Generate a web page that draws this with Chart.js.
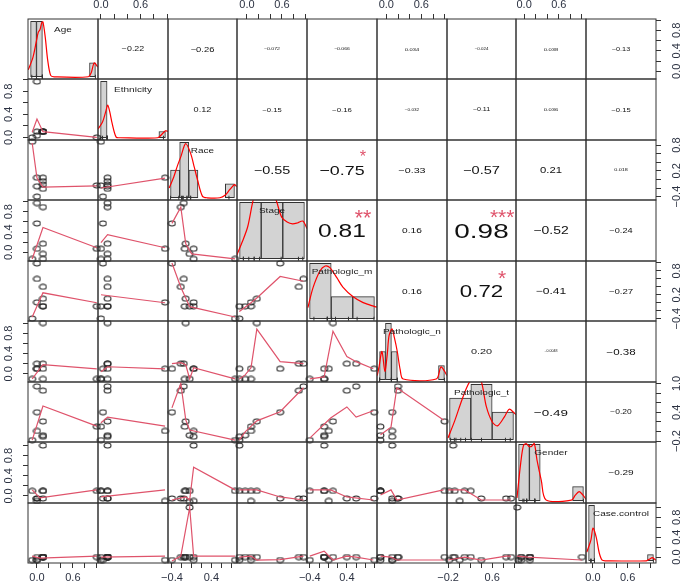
<!DOCTYPE html>
<html>
<head>
<meta charset="utf-8">
<script src="https://cdn.jsdelivr.net/npm/chart.js@4.4.1/dist/chart.umd.min.js"></script>
<style>
    html, body { margin: 0; padding: 0; background: #fff; }
    #wrap { position: relative; width: 685px; height: 582px; overflow: hidden; background: #fff; }
    #wrap canvas { position: absolute; }
</style>
</head>
<body>
<div id="wrap"></div>
<script>
// ---- variables (one value per observation, null = missing) ----
const varNames = ['Age', 'Ethnicity', 'Race', 'Stage', 'Pathologic_m', 'Pathologic_n', 'Pathologic_t', 'Gender', 'Case.control'];

const age         = [-0.08, 0.10, 0.10, 0.00, 1.00, 0.10, 0.00, 0.10, 0.00, null];
const ethnicity   = [0.00, 0.10, 0.10, 0.97, 0.00, 0.10, 0.03, 0.10, 0.10, null];
const race        = [0.88, 0.04, -0.04, 0.04, -0.14, -0.12, -0.40, -0.22, -0.16, -0.04];
const stage       = [-0.13, -0.13, -0.03, 0.07, 0.07, 0.17, 0.57, 0.89, 0.97, null];
const pathM       = [-0.40, -0.09, -0.09, 0.01, -0.09, 0.10, 0.99, 0.40, 0.60, null];
const pathN       = [-0.10, 0.10, -0.10, 0.10, -0.10, 1.00, 0.10, 0.20, 0.20, null];
const pathT       = [-0.18, -0.11, -0.08, 0.01, 0.10, 0.21, 0.40, 0.85, 0.94, null];
const gender      = [0.10, 1.00, 0.10, -0.10, 0.10, 0.10, -0.05, -0.05, -0.05, -0.12];
const caseControl = [-0.06, 0.00, 0.00, -0.06, 0.00, 0.00, -0.06, 0.00, 0.00, 1.00];

// axis range of each variable (same for its column and its row)
const ranges = [[-0.15, 1.02], [-0.045, 1.015], [-0.48, 0.92], [-0.17, 1.03], [-0.46, 1.05],
                [-0.16, 1.04], [-0.22, 1.03], [-0.14, 1.07], [-0.12, 1.09]];

// tick values and the labels that are printed
const ticks01 = [0, 0.2, 0.4, 0.6, 0.8, 1.0];
const ticksRace = [-0.4, -0.2, 0, 0.2, 0.4, 0.6, 0.8];
const ticksPathM = [-0.4, -0.2, 0, 0.2, 0.4, 0.6, 0.8, 1.0];
const ticksPathT = [-0.2, 0, 0.2, 0.4, 0.6, 0.8, 1.0];
const labelsH01 = ['0.0', '0.6'];
const labelsHNeg4 = ['\u22120.4', '0.4'];
const labelsHNeg2 = ['\u22120.2', '0.6'];
const labelsV01 = ['0.0', '0.4', '0.8'];
const labelsVNeg4 = ['\u22120.4', '0.2', '0.8'];
const labelsVNeg2 = ['\u22120.2', '0.4', '1.0'];

// histograms on the diagonal
const breaksAge    = [-0.1, 0, 0.1, 0.2, 0.3, 0.4, 0.5, 0.6, 0.7, 0.8, 0.9, 1.0];
const countsAge    = [4, 4, 0, 0, 0, 0, 0, 0, 0, 0, 1];
const breaksEth    = [0, 0.1, 0.2, 0.3, 0.4, 0.5, 0.6, 0.7, 0.8, 0.9, 1.0];
const countsEth    = [9, 0, 0, 0, 0, 0, 0, 0, 0, 1];
const breaksRace   = [-0.4, -0.2, 0, 0.2, 0.4, 0.6, 0.8, 1.0];
const countsRace   = [2, 4, 2, 0, 0, 0, 1];
const breaksStage  = [-0.2, 0.2, 0.6, 1.0];
const countsStage  = [3, 3, 3];
const breaksPathM  = [-0.5, 0, 0.5, 1.0];
const countsPathM  = [5, 2, 2];
const breaksPathN  = [-0.1, 0, 0.1, 0.2, 0.3, 0.4, 0.5, 0.6, 0.7, 0.8, 0.9, 1.0];
const countsPathN  = [2, 4, 2, 0, 0, 0, 0, 0, 0, 0, 1];
const breaksPathT  = [-0.2, 0.2, 0.6, 1.0];
const countsPathT  = [3, 4, 2];
const breaksGender = [-0.2, 0, 0.2, 0.4, 0.6, 0.8, 1.0];
const countsGender = [4, 4, 0, 0, 0, 1];
const breaksCase   = [-0.1, 0, 0.1, 0.2, 0.3, 0.4, 0.5, 0.6, 0.7, 0.8, 0.9, 1.0];
const countsCase   = [9, 0, 0, 0, 0, 0, 0, 0, 0, 0, 1];

// density curves (x in variable units, y in histogram count units)
const densAge = [[-0.14, 0.5], [-0.06, 1.4], [0.0, 2.6], [0.03, 3.2], [0.06, 3.4], [0.09, 3.9], [0.11, 3.95], [0.15, 2.8], [0.19, 1.2], [0.24, 0.1], [0.3, 0], [0.88, 0], [0.93, 0.3], [0.98, 1.0], [1.04, 0.7]];
const densEth = [[-0.04, 1.4], [0.03, 2.5], [0.08, 4.2], [0.11, 5.2], [0.14, 4.2], [0.18, 2.2], [0.24, 0.1], [0.3, 0], [0.88, 0], [0.95, 0.6], [1.0, 1.1], [1.04, 1.0]];
const densRace = [[-0.43, 0.7], [-0.33, 1.5], [-0.25, 2.3], [-0.17, 3.0], [-0.07, 3.9], [0.04, 3.2], [0.12, 2.2], [0.19, 1.3], [0.3, 0.1], [0.4, 0], [0.68, 0], [0.8, 0.2], [0.9, 0.6], [1.0, 0.95], [1.05, 0.8]];
const densStage = [[-0.25, 0.2], [-0.15, 0.9], [-0.05, 1.7], [0.05, 3.1], [0.15, 4.0], [0.25, 4.3], [0.38, 3.9], [0.49, 3.0], [0.58, 2.2], [0.68, 1.95], [0.78, 1.85], [0.87, 1.9], [0.97, 2.0], [1.05, 1.6]];
const densPathM = [[-0.54, 1.0], [-0.42, 2.8], [-0.26, 4.3], [-0.14, 4.75], [-0.03, 4.6], [0.13, 3.7], [0.27, 2.85], [0.5, 2.0], [0.74, 1.45], [1.01, 1.1], [1.06, 1.05]];
const densPathN = [[-0.14, 0.3], [-0.11, 0.9], [-0.06, 2.0], [-0.01, 0.6], [0.03, 1.8], [0.06, 3.1], [0.11, 3.6], [0.15, 3.0], [0.2, 2.0], [0.25, 0.7], [0.3, 0.05], [0.86, 0.05], [0.94, 0.9], [1.01, 0.55], [1.04, 0.3]];
const densPathT = [[-0.23, 0.13], [-0.1, 1.4], [0.03, 2.85], [0.14, 3.9], [0.23, 4.45], [0.31, 4.65], [0.4, 4.15], [0.49, 2.4], [0.6, 1.3], [0.7, 1.0], [0.83, 1.65], [0.92, 2.2], [1.01, 1.95], [1.05, 1.8]];
const densGender = [[-0.23, 0.2], [-0.16, 2.7], [-0.11, 3.9], [-0.06, 4.05], [-0.01, 3.85], [0.04, 3.85], [0.09, 4.05], [0.14, 2.9], [0.22, 1.45], [0.31, 0.05], [0.78, 0.05], [0.85, 0.4], [0.92, 0.65], [0.98, 0.45], [1.05, 0.1]];
const densCase = [[-0.13, 1.4], [-0.06, 3.4], [-0.025, 5.3], [0.03, 3.8], [0.08, 1.3], [0.13, 0.1], [0.2, 0], [0.88, 0], [0.94, 0.3], [0.98, 0.5], [1.04, 0.1]];

// smoother lines of the lower panels: smRC = row variable R against column variable C
const sm21 = [[-0.08, 0.09], [0.0, 0.32], [0.1, 0.1], [1.0, 0.0]];
const sm31 = [[-0.08, 0.85], [0.0, 0.03], [0.1, -0.18], [1.0, -0.15]];
const sm32 = [[0.0, -0.2], [0.97, 0.03]];
const sm41 = [[-0.08, -0.13], [0.1, 0.49], [1.0, 0.09]];
const sm42 = [[0.0, 0.19], [0.1, 0.35], [0.97, 0.09]];
const sm43 = [[-0.4, 0.57], [-0.22, 0.89], [-0.12, 0.17], [0.0, -0.03], [0.88, -0.13]];
const sm51 = [[-0.08, -0.36], [0.1, 0.25], [1.0, 0.0]];
const sm52 = [[0.0, 0.2], [0.97, 0.0]];
const sm53 = [[-0.4, 1.0], [-0.22, 0.39], [-0.04, -0.1], [0.88, -0.36]];
const sm54 = [[-0.13, -0.22], [0.07, 0.0], [0.17, 0.12], [0.57, 0.66], [0.97, 0.54]];
const sm61 = [[-0.08, -0.1], [0.1, 0.18], [1.0, 0.1]];
const sm62 = [[0.0, 0.04], [0.1, 0.14], [0.97, 0.1]];
const sm63 = [[-0.4, 0.2], [-0.22, 0.22], [-0.12, 0.18], [-0.04, -0.1], [0.04, 0.12], [0.88, -0.1]];
const sm64 = [[-0.13, -0.1], [-0.03, -0.02], [0.07, 0.12], [0.17, 0.88], [0.57, 0.24], [0.97, 0.2]];
const sm65 = [[-0.4, -0.1], [-0.09, -0.06], [0.1, 0.84], [0.4, 0.34], [0.6, 0.24], [0.97, 0.1]];
const sm71 = [[-0.08, -0.18], [0.1, 0.53], [1.0, 0.11]];
const sm72 = [[0.0, 0.18], [0.1, 0.3], [0.97, 0.11]];
const sm73 = [[-0.4, 0.49], [-0.22, 1.0], [-0.12, 0.24], [-0.04, 0.03], [0.88, -0.18]];
const sm74 = [[-0.13, -0.18], [-0.03, -0.01], [0.17, 0.22], [0.57, 0.41], [0.97, 0.91]];
const sm75 = [[-0.4, -0.14], [0.05, 0.28], [0.4, 0.51], [0.6, 0.3], [0.97, 0.43]];
const sm76 = [[-0.1, -0.07], [0.08, 0.09], [0.18, 0.91], [0.98, 0.24]];
const sm81 = [[-0.08, 0.12], [0.05, -0.04], [1.0, 0.12]];
const sm82 = [[0.0, -0.02], [0.97, 0.12]];
const sm83 = [[-0.4, -0.08], [-0.12, -0.02], [-0.04, -0.08], [0.04, 0.57], [0.88, 0.12]];
const sm84 = [[-0.13, 0.12], [0.17, 0.12], [0.57, -0.02], [0.97, -0.08]];
const sm85 = [[-0.4, 0.12], [0.05, 0.12], [0.4, -0.02], [0.97, -0.08]];
const sm86 = [[-0.1, 0.02], [0.08, 0.12], [0.18, -0.08], [0.98, 0.12]];
const sm87 = [[-0.2, 0.12], [0.1, 0.12], [0.4, -0.08], [0.94, -0.08]];
const sm91 = [[-0.08, 0.02], [0.05, -0.02], [1.0, 0.02]];
const sm92 = [[0.0, 0.0], [0.97, 0.02]];
const sm93 = [[-0.4, -0.08], [-0.22, 0.02], [-0.04, 1.0], [0.04, 0.02], [0.88, 0.02]];
const sm94 = [[-0.13, 0.0], [0.07, 0.02], [0.17, -0.06], [0.57, -0.05], [0.97, 0.02]];
const sm95 = [[-0.4, 0.02], [-0.09, 0.12], [0.1, -0.06], [0.4, 0.02], [0.6, 0.0], [0.97, -0.06]];
const sm96 = [[-0.1, 0.02], [0.08, 0.0], [0.18, -0.06], [0.98, -0.06]];
const sm97 = [[-0.2, -0.06], [0.1, 0.0], [0.4, -0.06], [0.85, 0.02], [0.94, 0.02]];
const sm98 = [[-0.12, 0.02], [0.07, 0.0], [1.0, -0.06]];

// correlations printed in the upper panels (row variable against the later columns)
const corAge       = ['-0.22', '-0.26', '-0.072', '-0.066', '0.034', '-0.024', '0.038', '-0.13'];
const corEthnicity = ['0.12', '-0.15', '-0.16', '-0.032', '-0.11', '0.036', '-0.15'];
const corRace      = ['-0.55', '-0.75', '-0.33', '-0.57', '0.21', '0.018'];
const corStage     = ['0.81', '0.16', '0.98', '-0.52', '-0.24'];
const corPathM     = ['0.16', '0.72', '-0.41', '-0.27'];
const corPathN     = ['0.20', '-0.0048', '-0.38'];
const corPathT     = ['-0.49', '-0.20'];
const corGender    = ['-0.29'];
const sigRace  = ['', '*'];
const sigStage = ['**', '', '***'];
const sigPathM = ['', '*'];

// ---- wiring ----
const vars = [age, ethnicity, race, stage, pathM, pathN, pathT, gender, caseControl];
const tickValues = [ticks01, ticks01, ticksRace, ticks01, ticksPathM, ticks01, ticksPathT, ticks01, ticks01];
const hLabels = [labelsH01, labelsH01, labelsHNeg4, labelsH01, labelsHNeg4, labelsH01, labelsHNeg2, labelsH01, labelsH01];
const vLabels = [labelsV01, labelsV01, labelsVNeg4, labelsV01, labelsVNeg4, labelsV01, labelsVNeg2, labelsV01, labelsV01];
const breaks = [breaksAge, breaksEth, breaksRace, breaksStage, breaksPathM, breaksPathN, breaksPathT, breaksGender, breaksCase];
const counts = [countsAge, countsEth, countsRace, countsStage, countsPathM, countsPathN, countsPathT, countsGender, countsCase];
const dens = [densAge, densEth, densRace, densStage, densPathM, densPathN, densPathT, densGender, densCase];
const smooth = {
    '1-0': sm21, '2-0': sm31, '2-1': sm32, '3-0': sm41, '3-1': sm42, '3-2': sm43,
    '4-0': sm51, '4-1': sm52, '4-2': sm53, '4-3': sm54,
    '5-0': sm61, '5-1': sm62, '5-2': sm63, '5-3': sm64, '5-4': sm65,
    '6-0': sm71, '6-1': sm72, '6-2': sm73, '6-3': sm74, '6-4': sm75, '6-5': sm76,
    '7-0': sm81, '7-1': sm82, '7-2': sm83, '7-3': sm84, '7-4': sm85, '7-5': sm86, '7-6': sm87,
    '8-0': sm91, '8-1': sm92, '8-2': sm93, '8-3': sm94, '8-4': sm95, '8-5': sm96, '8-6': sm97, '8-7': sm98
};
const corRows = [corAge, corEthnicity, corRace, corStage, corPathM, corPathN, corPathT, corGender];
const sigRows = [[], [], sigRace, sigStage, sigPathM, [], [], []];

const FONT = "'Liberation Sans', Arial, Helvetica, sans-serif";
const P = 5, EXTRA = 14, AXH = 19, AXW = 24;
const colEdges = [], rowEdges = [];
for (let i = 0; i <= 9; i++) {
    colEdges.push(Math.round(28 + i * (656 - 28) / 9));
    rowEdges.push(Math.round(19 + i * (563 - 19) / 9));
}

Chart.defaults.font.family = FONT;
Chart.defaults.color = '#2c3242';

// small open ellipse used for the scatter points
const dot = document.createElement('canvas');
dot.width = 9; dot.height = 7;
(() => {
    const g = dot.getContext('2d');
    g.strokeStyle = '#222';
    g.lineWidth = 1.1;
    g.beginPath();
    g.ellipse(4.5, 3.5, 3.4, 2.5, 0, 0, Math.PI * 2);
    g.stroke();
})();

// frame, diagonal names and correlation text
const cellDecor = {
    id: 'cellDecor',
    afterDraw(chart, args, o) {
        const ctx = chart.ctx;
        const a = chart.chartArea;
        ctx.save();
        if (o.label) {
            ctx.save();
            ctx.translate((a.left + a.right) / 2, a.top + a.height * 0.167 + 3);
            ctx.scale(1.25, 1);
            ctx.font = '8px ' + FONT;
            ctx.fillStyle = '#222';
            ctx.textAlign = 'center';
            ctx.fillText(o.label, 0, 0);
            ctx.restore();
        }
        if (o.cor) {
            const S = 1.35;
            const r = Math.abs(parseFloat(o.cor));
            const txt = o.cor.replace('-', '\u2212');
            ctx.font = '10px ' + FONT;
            const w10 = ctx.measureText(txt).width;
            const full = 10 * 0.8 * a.width / (w10 * S);
            const fs = full * (r + 0.3) / 1.3;
            ctx.save();
            ctx.translate((a.left + a.right) / 2, (a.top + a.bottom) / 2 + 0.36 * fs);
            ctx.scale(S, 1);
            ctx.font = fs + 'px ' + FONT;
            ctx.fillStyle = '#111';
            ctx.textAlign = 'center';
            ctx.fillText(txt, 0, 0);
            ctx.restore();
            if (o.sig) {
                ctx.font = full + 'px ' + FONT;
                ctx.fillStyle = '#DF536B';
                ctx.textAlign = 'center';
                ctx.fillText(o.sig, a.left + 0.8 * a.width, a.top + 0.2 * a.height + 0.58 * full);
            }
        }
        ctx.strokeStyle = '#333';
        ctx.lineWidth = 1;
        ctx.strokeRect(a.left, a.top, a.width, a.height);
        ctx.restore();
    }
};

function varScale(v, axis, position, shown) {
    const s = {
        type: 'linear', axis: axis, position: position,
        min: ranges[v][0], max: ranges[v][1],
        display: shown, offset: false,
        grid: { drawOnChartArea: false, drawTicks: true, tickLength: 5, tickColor: '#333', tickWidth: 1 },
        border: { display: false }
    };
    if (!shown) return s;
    const labels = axis === 'x' ? hLabels[v] : vLabels[v];
    const wide = labels.some(l => l.startsWith('\u2212'));
    s.afterBuildTicks = sc => { sc.ticks = tickValues[v].map(value => ({ value })); };
    s.afterFit = sc => {
        if (axis === 'x') { sc.height = AXH; sc.paddingLeft = 0; sc.paddingRight = 0; }
        else { sc.width = AXW; sc.paddingTop = 0; sc.paddingBottom = 0; }
    };
    s.ticks = {
        autoSkip: false,
        font: { size: 11 },
        color: '#2c3242',
        padding: axis === 'x' ? (position === 'top' ? 2 : 3) : (position === 'left' ? 6 : (wide ? 5 : 8)),
        callback: val => labels.find(l => Math.abs(parseFloat(l.replace('\u2212', '-')) - val) < 1e-6) || ''
    };
    if (axis === 'y') {
        s.ticks.minRotation = 90;
        s.ticks.maxRotation = 90;
        s.ticks.crossAlign = 'center';
    } else {
        s.ticks.minRotation = 0;
        s.ticks.maxRotation = 0;
    }
    return s;
}

const wrap = document.getElementById('wrap');

for (let r = 0; r < 9; r++) {
    for (let c = 0; c < 9; c++) {
        const axTop = r === 0 && c % 2 === 1;
        const axBottom = r === 8 && c % 2 === 0;
        const axLeft = c === 0 && r % 2 === 1;
        const axRight = c === 8 && r % 2 === 0;

        // room around the cell: a little for circles, more where axis labels overhang
        const hasH = axTop || axBottom, hasV = axLeft || axRight;
        const pad = {
            left: P + (hasH ? EXTRA : 0), right: P + (hasH ? EXTRA : 0),
            top: P + (hasV ? EXTRA : 0), bottom: P + (hasV ? EXTRA : 0)
        };

        const cw = colEdges[c + 1] - colEdges[c];
        const ch = rowEdges[r + 1] - rowEdges[r];
        const offL = pad.left + (axLeft ? AXW : 0), offR = pad.right + (axRight ? AXW : 0);
        const offT = pad.top + (axTop ? AXH : 0), offB = pad.bottom + (axBottom ? AXH : 0);

        const canvas = document.createElement('canvas');
        canvas.width = cw + offL + offR;
        canvas.height = ch + offT + offB;
        canvas.style.left = (colEdges[c] - offL) + 'px';
        canvas.style.top = (rowEdges[r] - offT) + 'px';
        canvas.style.width = canvas.width + 'px';
        canvas.style.height = canvas.height + 'px';
        wrap.appendChild(canvas);

        const scales = {
            x: varScale(c, 'x', axTop ? 'top' : 'bottom', hasH),
            y: varScale(r, 'y', axLeft ? 'left' : 'right', hasV)
        };
        const datasets = [];
        const decor = {};

        if (r === c) {
            const br = breaks[r], ct = counts[r];
            const span = br[br.length - 1] - br[0];
            const maxC = Math.max(...ct);
            scales.hx = { type: 'linear', axis: 'x', display: false, offset: false, grid: { offset: false },
                          min: br[0] - 0.04 * span, max: br[br.length - 1] + 0.04 * span };
            scales.hy = { type: 'linear', axis: 'y', display: false, offset: false,
                          min: -0.04 * maxC, max: 1.04 * maxC };
            datasets.push({
                type: 'bar', xAxisID: 'hx', yAxisID: 'hy', order: 3,
                data: ct.map((n, i) => ({ x: (br[i] + br[i + 1]) / 2, y: n })),
                backgroundColor: '#d3d3d3', borderColor: '#333', borderWidth: 1,
                borderSkipped: false, barPercentage: 1, categoryPercentage: 1
            });
            datasets.push({
                type: 'scatter', xAxisID: 'hx', yAxisID: 'hy', order: 2,
                data: vars[r].filter(v => v !== null).map(v => ({ x: v, y: 0 })),
                pointStyle: 'line', rotation: 90, radius: 2, borderColor: '#333', borderWidth: 1
            });
            datasets.push({
                type: 'line', xAxisID: 'hx', yAxisID: 'hy', order: 1,
                data: dens[r].map(p => ({ x: p[0], y: p[1] })),
                borderColor: '#ff0000', borderWidth: 1.2, pointRadius: 0, tension: 0.3, fill: false
            });
            decor.label = varNames[r];
        } else if (r > c) {
            const pts = [];
            vars[c].forEach((xv, i) => {
                const yv = vars[r][i];
                if (xv !== null && yv !== null) pts.push({ x: xv, y: yv });
            });
            datasets.push({
                type: 'scatter', data: pts, order: 2, clip: 5,
                pointStyle: dot, radius: 3, borderColor: '#222'
            });
            datasets.push({
                type: 'line', order: 1,
                data: smooth[r + '-' + c].map(p => ({ x: p[0], y: p[1] })),
                borderColor: '#DF536B', borderWidth: 1.2, pointRadius: 0, tension: 0, fill: false
            });
        } else {
            decor.cor = corRows[r][c - r - 1];
            decor.sig = sigRows[r][c - r - 1] || '';
        }

        new Chart(canvas, {
            type: 'scatter',
            data: { datasets },
            options: {
                responsive: false,
                animation: false,
                devicePixelRatio: 1,
                events: [],
                layout: { padding: pad },
                plugins: { legend: { display: false }, tooltip: { enabled: false }, cellDecor: decor },
                scales
            },
            plugins: [cellDecor]
        });
    }
}
</script>
</body>
</html>
